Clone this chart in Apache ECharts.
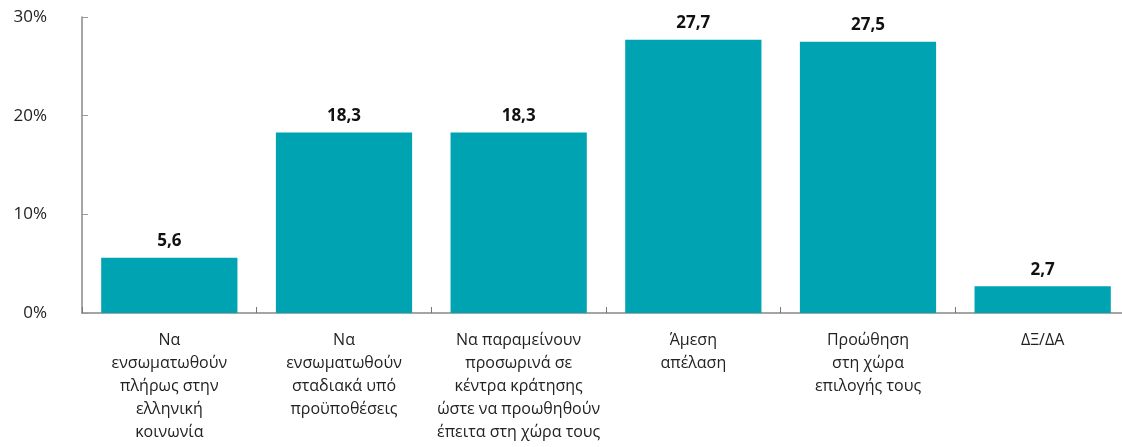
<!DOCTYPE html>
<html>
<head>
<meta charset="utf-8">
<script src="https://cdn.jsdelivr.net/npm/echarts@6/dist/echarts.min.js"></script>
<style>
html, body { margin: 0; padding: 0; background: #fff; }
#chart { width: 1122px; height: 447px; }
</style>
</head>
<body>
<div id="chart"></div>
<script>
var categories = [
    "Να\nενσωματωθούν\nπλήρως στην\nελληνική\nκοινωνία",
    "Να\nενσωματωθούν\nσταδιακά υπό\nπροϋποθέσεις",
    "Να παραμείνουν\nπροσωρινά σε\nκέντρα κράτησης\nώστε να προωθηθούν\nέπειτα στη χώρα τους",
    "Άμεση\nαπέλαση",
    "Προώθηση\nστη χώρα\nεπιλογής τους",
    "ΔΞ/ΔΑ"
];
var values = [5.6, 18.3, 18.3, 27.7, 27.5, 2.7];
var yTicks = [0, 10, 20, 30];

var chart = echarts.init(document.getElementById('chart'));

var option = {
    animation: false,
    textStyle: { fontFamily: 'Open Sans, DejaVu Sans, sans-serif' },
    grid: {
        left: 82,
        top: 17,
        bottom: 134,
        width: 1048,
        outerBoundsMode: 'none'
    },
    xAxis: {
        type: 'category',
        data: categories,
        axisLine: { lineStyle: { color: '#888', width: 1.5 } },
        axisTick: { show: true, inside: true, length: 6, lineStyle: { color: '#777' } },
        axisLabel: {
            color: '#222',
            fontSize: 16,
            lineHeight: 23,
            margin: 16,
            interval: 0
        }
    },
    yAxis: {
        type: 'value',
        min: yTicks[0],
        max: yTicks[yTicks.length - 1],
        interval: 10,
        splitLine: { show: false },
        axisLine: { show: true, lineStyle: { color: '#888', width: 1.5 } },
        axisTick: { show: true, inside: true, length: 6, lineStyle: { color: '#999' } },
        axisLabel: {
            color: '#222',
            fontSize: 17,
            margin: 35,
            formatter: function (v) { return v + '%'; }
        }
    },
    series: [{
        type: 'bar',
        data: values,
        barWidth: '78%',
        itemStyle: { color: '#00A3B1' },
        label: {
            show: true,
            position: 'top',
            distance: 8,
            color: '#111',
            fontSize: 17,
            fontWeight: 'bold',
            formatter: function (p) { return String(p.value).replace('.', ','); }
        }
    }]
};
chart.setOption(option);
</script>
</body>
</html>
